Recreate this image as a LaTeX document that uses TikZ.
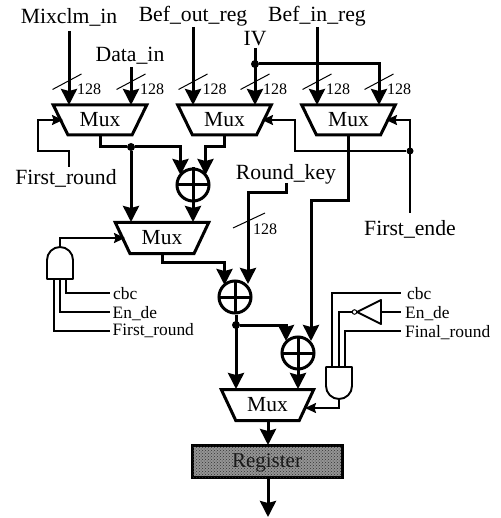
\documentclass[tikz,border=0pt]{standalone}
\usepackage{fontspec}
\setmainfont{Liberation Serif}
\usetikzlibrary{arrows.meta,shapes.geometric,patterns,calc}
\tikzset{
  bus/.style={line width=3pt,-{Stealth[length=16pt,width=16pt,inset=2pt]}},
  busline/.style={line width=3pt},
  ctl/.style={line width=1.9pt,-{Stealth[length=11pt,width=10pt,inset=1.5pt]}},
  ctlline/.style={line width=1.9pt},
  tick/.style={line width=1pt},
  muxnode/.style={shape=trapezium,draw,line width=3pt,trapezium stretches=true,shape border rotate=180,
    trapezium left angle=57,trapezium right angle=57,inner sep=0pt,font=\fontsize{21.5}{21.5}\selectfont},
  xornode/.style={circle,draw,line width=3pt,minimum size=32pt,inner sep=0pt,
    path picture={\draw[line width=3pt] (path picture bounding box.north)--(path picture bounding box.south)
      (path picture bounding box.west)--(path picture bounding box.east);}},
  biglab/.style={anchor=base,inner sep=0pt,font=\fontsize{21.7}{21.7}\selectfont},
  midlab/.style={anchor=base west,inner sep=0pt,font=\fontsize{17.4}{17.4}\selectfont},
  widthlab/.style={anchor=base,inner sep=0pt,font=\fontsize{16}{16}\selectfont},
  junction/.style={circle,fill=black,inner sep=0pt,minimum size=8pt},
  smalljunction/.style={circle,fill=black,inner sep=0pt,minimum size=7pt},
}
\begin{document}
\begin{tikzpicture}[x=1pt,y=-1pt]
\useasboundingbox (0,0) rectangle (500,518);
% muxes
\node[muxnode,minimum width=94pt,minimum height=30pt] (m1) at (100,120) {Mux};
\node[muxnode,minimum width=94pt,minimum height=30pt] (m2) at (224.5,120) {Mux};
\node[muxnode,minimum width=94pt,minimum height=30pt] (m3) at (348.5,120) {Mux};
\node[muxnode,minimum width=94pt,minimum height=31pt] (m4) at (162,238) {Mux};
\node[muxnode,minimum width=93pt,minimum height=31pt] (m5) at (267.5,405) {Mux};
% xors
\node[xornode] (x1) at (193,185) {};
\node[xornode] (x2) at (235,297) {};
\node[xornode] (x3) at (298,353) {};
% register
\node[draw,line width=3pt,minimum width=150pt,minimum height=32pt,inner sep=0pt,fill=black!42,
  postaction={pattern=crosshatch dots,pattern color=black!80}] (reg) at (267,461) {};
\node[anchor=base,inner sep=0pt,font=\fontsize{21}{21}\selectfont,text=black!90] (regt) at (267,467) {Register};
% labels
\node[biglab] (mix) at (69,24) {Mixclm\_in};
\node[biglab] (dat) at (130,62) {Data\_in};
\node[biglab] (bo) at (193,22) {Bef\_out\_reg};
\node[biglab] (bi) at (317,22) {Bef\_in\_reg};
\node[biglab] (iv) at (255,46) {IV};
\node[biglab] (rk) at (286,180) {Round\_key};
\node[biglab] (fe) at (410,235) {First\_ende};
\node[biglab] (fr) at (66,185) {First\_round};
\node[midlab] (c1) at (113,299) {cbc};
\node[midlab] (e1) at (112.5,318) {En\_de};
\node[midlab] (f1) at (112.5,335) {First\_round};
\node[midlab] (c2) at (407,299) {cbc};
\node[midlab] (e2) at (405,318) {En\_de};
\node[midlab] (f2) at (405,337) {Final\_round};
% width labels
\foreach \n/\x in {a/89,b/152,c/214.5,d/275,e/338,f/399}
  \node[widthlab] (w\n) at (\x,95) {128};
\node[widthlab] (wg) at (265,234) {128};
% named points
\coordinate (in1) at (69,105); \coordinate (in2) at (131,105); \coordinate (in3) at (193,105);
\coordinate (in4) at (255,105); \coordinate (in5) at (317,105); \coordinate (in6) at (379,105);
% top inputs
\draw[bus] (69,31) -- (in1);
\draw[bus] (131,67) -- (in2);
\draw[bus] (193,27) -- (in3);
\draw[bus] (255,48) -- (in4);
\draw[bus] (317,27) -- (in5);
\node[junction] (jiv) at (255,64) {};
\draw[bus] (jiv) -- (379,64) -- (in6);
% ticks
\foreach \x in {67,131,193,255,317,379}
  \draw[tick] (\x-14.5,89.5) -- (\x+14.5,74);
\draw[tick] (233,228) -- (265,213);
% mux 1 / 2 outputs
\coordinate (m1o) at (100,135); \coordinate (m2o) at (224,135);
\node[junction] (j1) at (131,147) {};
\draw[busline] (m1o) -- (100,147) -- (j1);
\draw[bus] (j1) -- (180.5,147) -- (180.5,175);
\draw[bus] (m2o) -- (224,147) -- (205.5,147) -- (205.5,175);
\coordinate (m4a) at (131,222); \coordinate (m4b) at (193,222);
\draw[bus] (j1) -- (m4a);
\draw[bus] (x1) -- (m4b);
\draw[busline] (x1.north) -- (x1.south);
% first round feedback
\coordinate (m1s) at (63,120);
\draw[ctl] (69,167) -- (69,151) -- (38,151) -- (38,120) -- (m1s);
% first ende
\coordinate (m2s) at (262,120); \coordinate (m3s) at (386,120);
\node[smalljunction] (j2) at (410,151) {};
\draw[ctl] (410,213) -- (410,120) -- (m3s);
\draw[ctl] (j2) -- (295,151) -- (295,120) -- (m2s);
% mux3 out
\coordinate (m3o) at (348,135); \coordinate (x3b) at (311,341);
\draw[bus] (m3o) -- (348,200.5) -- (311,200.5) -- (x3b);
% round key
\coordinate (x2b) at (248,284);
\draw[bus] (286,183) -- (286,193) -- (248,193) -- (x2b);
% mux 4 out
\coordinate (m4o) at (162,253); \coordinate (x2a) at (224.5,285);
\draw[bus] (m4o) -- (162,262) -- (224.5,262) -- (x2a);
% xor 2 out
\node[junction] (j3) at (236,325) {};
\coordinate (m5a) at (236,389);
\draw[bus] (x2.south -| j3) -- (m5a);
\coordinate (x3a) at (286,341);
\draw[bus] (j3) -- (286,325) -- (x3a);
\coordinate (m5b) at (298,389);
\draw[bus] (x3) -- (m5b);
\draw[busline] (x3.north) -- (x3.south);
% to register and out
\coordinate (m5o) at (268,421); \coordinate (regin) at (268,445);
\coordinate (regout) at (268,477); \coordinate (out) at (268,517);
\draw[bus] (m5o) -- (regin);
\draw[bus] (regout) -- (out);
% left AND gate
\coordinate (g1o) at (60,247);
\draw[ctlline,line join=round] (47,279) -- (47,260) arc[start angle=180,end angle=0,x radius=13,y radius=-13] -- (73,279) -- cycle;
\coordinate (m4s) at (125,238);
\draw[ctl] (g1o) -- (60,238) -- (m4s);
\draw[ctlline] (66,279) -- (66,293) -- (110,293);
\draw[ctlline] (60,279) -- (60,312) -- (110,312);
\draw[ctlline] (54,279) -- (54,331) -- (110,331);
% right AND gate
\draw[ctlline,line join=round] (326,367) -- (326,386) arc[start angle=180,end angle=360,x radius=13,y radius=-13] -- (352,367) -- cycle;
\coordinate (g2o) at (339,399); \coordinate (m5s) at (305,408);
\draw[ctl] (g2o) -- (339,408) -- (m5s);
\draw[ctlline] (332,367) -- (332,293) -- (401,293);
\draw[ctlline] (345,367) -- (345,331) -- (401,331);
% inverter
\draw[ctlline,line join=round] (357,312) -- (381,300) -- (381,324) -- cycle;
\node[circle,draw,line width=1pt,fill=white,minimum size=4.5pt,inner sep=0pt] (inv) at (354.5,312) {};
\draw[ctlline] (339,367) -- (339,312) -- (inv);
\draw[ctlline] (381,312) -- (401,312);
\end{tikzpicture}
\end{document}
